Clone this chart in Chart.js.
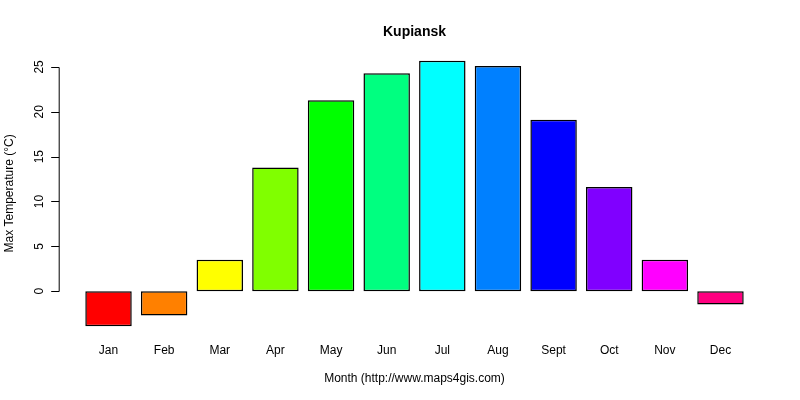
<!DOCTYPE html>
<html>
<head>
<meta charset="utf-8">
<script src="https://cdn.jsdelivr.net/npm/chart.js@4/dist/chart.umd.min.js"></script>
<style>
  html, body { margin: 0; padding: 0; background: #fff; }
  #wrap { width: 800px; height: 400px; }
</style>
</head>
<body>
<div id="wrap"><canvas id="tempChart"></canvas></div>
<script>
// Data
const months = ['Jan', 'Feb', 'Mar', 'Apr', 'May', 'Jun', 'Jul', 'Aug', 'Sept', 'Oct', 'Nov', 'Dec'];
const maxTemps = [-3.9, -2.7, 3.5, 13.8, 21.3, 24.3, 25.7, 25.1, 19.1, 11.6, 3.5, -1.5];
const barColors = ['#FF0000', '#FF8000', '#FFFF00', '#80FF00', '#00FF00', '#00FF80',
                   '#00FFFF', '#0080FF', '#0000FF', '#8000FF', '#FF00FF', '#FF0080'];
const yTicks = [0, 5, 10, 15, 20, 25];

const FONT = '"Liberation Sans", Arial, sans-serif';

// R style y axis: line from first to last tick, rotated labels, drawn off to the left
const rAxisPlugin = {
    id: 'rAxis',
    afterDraw(chart) {
        const { ctx, chartArea, scales } = chart;
        const y = scales.y;
        const axisX = chartArea.left - 21.5;
        ctx.save();
        ctx.strokeStyle = '#000';
        ctx.lineWidth = 1;
        ctx.beginPath();
        ctx.moveTo(axisX, Math.round(y.getPixelForValue(yTicks[0])) + 0.5);
        ctx.lineTo(axisX, Math.round(y.getPixelForValue(yTicks[yTicks.length - 1])) + 0.5);
        yTicks.forEach(t => {
            const py = Math.round(y.getPixelForValue(t)) + 0.5;
            ctx.moveTo(axisX, py);
            ctx.lineTo(axisX - 8, py);
        });
        ctx.stroke();

        ctx.fillStyle = '#000';
        ctx.font = '12px ' + FONT;
        ctx.textAlign = 'center';
        ctx.textBaseline = 'middle';
        yTicks.forEach(t => {
            const py = y.getPixelForValue(t);
            ctx.save();
            ctx.translate(axisX - 20, py);
            ctx.rotate(-Math.PI / 2);
            ctx.fillText(String(t), 0, 0);
            ctx.restore();
        });

        // y axis title
        ctx.save();
        ctx.translate(10, (y.getPixelForValue(y.min) + y.getPixelForValue(y.max)) / 2);
        ctx.rotate(-Math.PI / 2);
        ctx.fillText('Max Temperature (°C)', 0, 0);
        ctx.restore();
        ctx.restore();
    }
};

new Chart(document.getElementById('tempChart'), {
    type: 'bar',
    data: {
        labels: months,
        datasets: [{
            data: maxTemps,
            backgroundColor: barColors,
            borderColor: '#000',
            borderWidth: 1.5,
            borderSkipped: false,
            barPercentage: 0.835,
            categoryPercentage: 1.0
        }]
    },
    options: {
        responsive: true,
        maintainAspectRatio: false,
        animation: false,
        devicePixelRatio: 1,
        layout: { padding: { left: 80.7, right: 51.7, top: 0, bottom: 0 } },
        plugins: {
            legend: { display: false },
            tooltip: { enabled: false },
            title: {
                display: true,
                text: 'Kupiansk',
                color: '#000',
                font: { family: FONT, size: 14, weight: 'bold' },
                padding: { top: 24, bottom: 9.1 }
            }
        },
        scales: {
            x: {
                afterFit(scale) { scale.height = 63.1; },
                grid: { display: false, drawTicks: false },
                border: { display: false },
                ticks: { color: '#000', font: { family: FONT, size: 12 }, padding: 6.4 },
                title: {
                    display: true,
                    text: 'Month (http://www.maps4gis.com)',
                    color: '#000',
                    font: { family: FONT, size: 12 },
                    padding: { top: 0, bottom: 13.8 }
                }
            },
            y: {
                display: false,
                min: -5.1,
                max: 26.9
            }
        }
    },
    plugins: [rAxisPlugin]
});
</script>
</body>
</html>
